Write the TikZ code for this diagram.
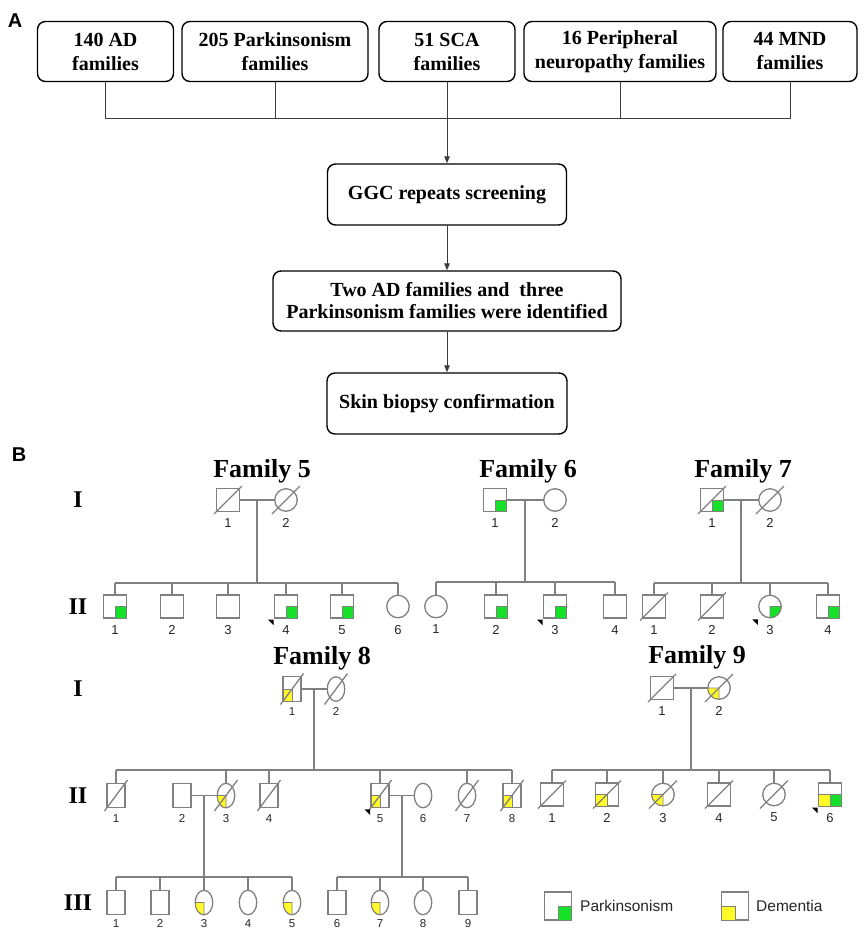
\documentclass[tikz,border=0pt]{standalone}
\usepackage{fontspec}
\setmainfont{Liberation Serif}
\setsansfont{Liberation Sans}
\usetikzlibrary{shapes.geometric,arrows.meta}
\definecolor{pgreen}{RGB}{20,225,40}
\definecolor{pyellow}{RGB}{255,250,40}
\definecolor{pline}{RGB}{128,128,128}
\definecolor{aline}{RGB}{60,60,60}
\newcommand{\pM}[3]{\node[male] (#1) at (#2,#3) {};}
\newcommand{\pF}[3]{\node[female] (#1) at (#2,#3) {};}
\newcommand{\pMe}[3]{\node[maleE] (#1) at (#2,#3) {};}
\newcommand{\pFe}[3]{\node[femaleE] (#1) at (#2,#3) {};}
\newcommand{\gBR}[1]{\filldraw[pgreen,draw=pline,line width=0.8pt] (#1.center) rectangle (#1.south east);}
\newcommand{\yBL}[1]{\filldraw[pyellow,draw=pline,line width=0.8pt] (#1.center) rectangle (#1.south west);}
\newcommand{\gBRc}[1]{\filldraw[pgreen,draw=pline,line width=0.8pt] (#1.center) -- (#1.east) arc[start angle=0,end angle=90,radius=11.25] -- cycle;}
\newcommand{\yBLc}[1]{\filldraw[pyellow,draw=pline,line width=0.8pt] (#1.center) -- (#1.south) arc[start angle=90,end angle=180,radius=11.25] -- cycle;}
\newcommand{\yBLe}[1]{\filldraw[pyellow,draw=pline,line width=0.8pt] (#1.center) -- (#1.south) arc[start angle=90,end angle=180,x radius=8.75,y radius=12.25] -- cycle;}
\newcommand{\dead}[3]{\draw[ped] ([shift={(-#2,#3)}]#1.center) -- ([shift={(#2,-#3)}]#1.center);}
\newcommand{\proband}[1]{\coordinate (#1pb) at (#1.west |- #1.south); \fill[black] ([shift={(-6.5,1.5)}]#1pb) -- ([shift={(-1,1.5)}]#1pb) -- ([shift={(-1,7)}]#1pb) -- cycle;}
\newcommand{\lb}[2]{\node[lab] (#1l) at ([yshift=-7pt]#1.south) {#2};}
\newcommand{\lbe}[2]{\node[labE] (#1l) at ([yshift=-6.5pt]#1.south) {#2};}
\newcommand{\lbf}[2]{\node[labE] (#1l) at ([yshift=-5pt]#1.south) {#2};}
\begin{document}
\begin{tikzpicture}[x=1pt,y=-1pt,
  box/.style={draw=black, line width=1.4pt, rounded corners=8pt, align=center, font=\fontsize{20}{24}\selectfont\bfseries, inner sep=0pt},
  flow/.style={draw=aline, line width=1pt},
  arr/.style={flow, -{Triangle[length=7pt,width=5.5pt]}},
  male/.style={draw=pline, line width=1.3pt, rectangle, minimum width=23pt, minimum height=23pt, inner sep=0pt, outer sep=0pt},
  female/.style={draw=pline, line width=1.3pt, circle, minimum size=22.5pt, inner sep=0pt, outer sep=0pt},
  maleE/.style={male, minimum width=18pt, minimum height=24.5pt},
  femaleE/.style={draw=pline, line width=1.3pt, ellipse, minimum width=17.5pt, minimum height=24.5pt, inner sep=0pt, outer sep=0pt},
  ped/.style={draw=pline, line width=1.3pt},
  lab/.style={font=\fontsize{13}{13}\selectfont\sffamily, text=black!85, inner sep=0pt, anchor=north},
  labE/.style={lab, font=\fontsize{11.5}{11.5}\selectfont\sffamily},
  famt/.style={font=\fontsize{26}{26}\selectfont\bfseries, inner sep=0pt},
  gen/.style={font=\fontsize{24}{24}\selectfont\bfseries, inner sep=0pt},
  panel/.style={font=\fontsize{20}{20}\selectfont\sffamily\bfseries, inner sep=0pt},
  legt/.style={font=\fontsize{15.5}{15.5}\selectfont\sffamily, text=black!85, inner sep=0pt, anchor=west},
]
\useasboundingbox (0,0) rectangle (864,930);
% ---------------- Panel A ----------------
\node[panel] (pA) at (15,21) {A};
\node[box, minimum width=136pt, minimum height=60pt] (b1) at (105.5,51.5) {140 AD\\families};
\node[box, minimum width=186pt, minimum height=60pt] (b2) at (275,51.5) {205 Parkinsonism\\families};
\node[box, minimum width=136pt, minimum height=60pt] (b3) at (447,51.5) {51 SCA\\families};
\node[box, minimum width=192pt, minimum height=60pt] (b4) at (620,51.5) {16 Peripheral\\neuropathy families};
\node[box, minimum width=134pt, minimum height=60pt] (b5) at (790,51.5) {44 MND\\families};
\coordinate (hl) at (0,118);
\draw[flow] (b1.south) -- (b1.south |- hl) -- (b5.south |- hl) -- (b5.south);
\draw[flow] (b2.south) -- (b2.south |- hl);
\draw[flow] (b4.south) -- (b4.south |- hl);
\node[box, minimum width=239pt, minimum height=61pt] (c1) at (447,194.5) {GGC repeats screening};
\node[box, minimum width=348pt, minimum height=60pt, font=\fontsize{20}{22}\selectfont\bfseries] (c2) at (447,301) {Two AD families and~ three\\Parkinsonism families were identified};
\node[box, minimum width=240pt, minimum height=61pt] (c3) at (447,403.5) {Skin biopsy confirmation};
\draw[arr] (b3) -- (c1);
\draw[arr] (c1) -- (c2);
\draw[arr] (c2) -- (c3);
% ---------------- Panel B ----------------
\node[panel] (pB) at (19,455) {B};
\node[gen] (g1) at (78,500) {I};
\node[gen] (g2) at (78,607) {II};
\node[gen] (g3) at (78,689) {I};
\node[gen] (g4) at (78,796) {II};
\node[gen] (g5) at (78,903) {III};
% Family 5
\node[famt] (t5) at (262,471) {Family 5};
\pM{f5a}{228}{500} \pF{f5b}{286}{500}
\draw[ped] (f5a) -- (f5b);
\coordinate (f5m) at (257,500); \coordinate (f5s) at (257,583);
\draw[ped] (f5m) -- (f5s);
\pM{f5c1}{115}{606.5} \pM{f5c2}{172}{606.5} \pM{f5c3}{228}{606.5}
\pM{f5c4}{286}{606.5} \pM{f5c5}{342}{606.5} \pF{f5c6}{398}{606.5}
\draw[ped] (f5c1.north |- f5s) -- (f5c6.north |- f5s);
\foreach \n in {f5c1,f5c2,f5c3,f5c4,f5c5,f5c6} \draw[ped] (\n.north) -- (\n.north |- f5s);
\gBR{f5c1} \gBR{f5c4} \gBR{f5c5}
\dead{f5a}{14}{14} \dead{f5b}{14}{14}
\proband{f5c4}
\lb{f5a}{1} \lb{f5b}{2}
\lb{f5c1}{1} \lb{f5c2}{2} \lb{f5c3}{3} \lb{f5c4}{4} \lb{f5c5}{5} \lb{f5c6}{6}
% Family 6
\node[famt] (t6) at (528,471) {Family 6};
\pM{f6a}{495}{500} \pF{f6b}{555}{500}
\draw[ped] (f6a) -- (f6b);
\coordinate (f6m) at (525,500); \coordinate (f6s) at (525,582);
\draw[ped] (f6m) -- (f6s);
\pF{f6c1}{436}{606.5} \pM{f6c2}{496}{606.5} \pM{f6c3}{555}{606.5} \pM{f6c4}{615}{606.5}
\draw[ped] (f6c1.north |- f6s) -- (f6c4.north |- f6s);
\foreach \n in {f6c1,f6c2,f6c3,f6c4} \draw[ped] (\n.north) -- (\n.north |- f6s);
\gBR{f6a} \gBR{f6c2} \gBR{f6c3}
\proband{f6c3}
\lb{f6a}{1} \lb{f6b}{2}
\lb{f6c1}{1} \lb{f6c2}{2} \lb{f6c3}{3} \lb{f6c4}{4}
% Family 7
\node[famt] (t7) at (743,471) {Family 7};
\pM{f7a}{712}{500} \pF{f7b}{770}{500}
\draw[ped] (f7a) -- (f7b);
\coordinate (f7m) at (741,500); \coordinate (f7s) at (741,583);
\draw[ped] (f7m) -- (f7s);
\pM{f7c1}{654}{606.5} \pM{f7c2}{712}{606.5} \pF{f7c3}{770}{606.5} \pM{f7c4}{828}{606.5}
\draw[ped] (f7c1.north |- f7s) -- (f7c4.north |- f7s);
\foreach \n in {f7c1,f7c2,f7c3,f7c4} \draw[ped] (\n.north) -- (\n.north |- f7s);
\gBR{f7a} \gBRc{f7c3} \gBR{f7c4}
\dead{f7a}{14}{14} \dead{f7b}{14}{14} \dead{f7c1}{14}{14} \dead{f7c2}{14}{14}
\proband{f7c3}
\lb{f7a}{1} \lb{f7b}{2}
\lb{f7c1}{1} \lb{f7c2}{2} \lb{f7c3}{3} \lb{f7c4}{4}
% Family 8
\node[famt] (t8) at (322,658) {Family 8};
\pMe{f8a}{292}{689} \pFe{f8b}{336}{689}
\draw[ped] (f8a) -- (f8b);
\coordinate (f8m) at (314,689); \coordinate (f8s) at (314,770);
\draw[ped] (f8m) -- (f8s);
\pMe{f8d1}{116}{795.5} \pMe{f8d2}{182}{795.5} \pFe{f8d3}{226}{795.5} \pMe{f8d4}{269}{795.5}
\pMe{f8d5}{380}{795.5} \pFe{f8d6}{423}{795.5} \pFe{f8d7}{467}{795.5} \pMe{f8d8}{512}{795.5}
\draw[ped] (f8d1.north |- f8s) -- (f8d8.north |- f8s);
\foreach \n in {f8d1,f8d3,f8d4,f8d5,f8d7,f8d8} \draw[ped] (\n.north) -- (\n.north |- f8s);
\draw[ped] (f8d2) -- (f8d3);
\draw[ped] (f8d5) -- (f8d6);
\coordinate (f8m2) at (204,795.5); \coordinate (f8m3) at (402,795.5);
\coordinate (f8t) at (0,877);
\draw[ped] (f8m2) -- (f8m2 |- f8t);
\draw[ped] (f8m3) -- (f8m3 |- f8t);
\pMe{f8e1}{116}{902.5} \pMe{f8e2}{160}{902.5} \pFe{f8e3}{204}{902.5} \pFe{f8e4}{248}{902.5} \pFe{f8e5}{292}{902.5}
\pMe{f8e6}{337}{902.5} \pFe{f8e7}{380}{902.5} \pFe{f8e8}{423}{902.5} \pMe{f8e9}{468}{902.5}
\draw[ped] (f8e1.north |- f8t) -- (f8e5.north |- f8t);
\draw[ped] (f8e6.north |- f8t) -- (f8e9.north |- f8t);
\foreach \n in {f8e1,f8e2,f8e3,f8e4,f8e5,f8e6,f8e7,f8e8,f8e9} \draw[ped] (\n.north) -- (\n.north |- f8t);
\yBL{f8a} \yBLe{f8d3} \yBL{f8d5} \yBL{f8d8}
\yBLe{f8e3} \yBLe{f8e5} \yBLe{f8e7}
\dead{f8a}{11.5}{15.5} \dead{f8b}{11.5}{15.5}
\dead{f8d1}{11.5}{15.5} \dead{f8d3}{11.5}{15.5} \dead{f8d4}{11.5}{15.5}
\dead{f8d5}{11.5}{15.5} \dead{f8d7}{11.5}{15.5} \dead{f8d8}{11.5}{15.5}
\proband{f8d5}
\lbe{f8a}{1} \lbe{f8b}{2}
\lbe{f8d1}{1} \lbe{f8d2}{2} \lbe{f8d3}{3} \lbe{f8d4}{4} \lbe{f8d5}{5} \lbe{f8d6}{6} \lbe{f8d7}{7} \lbe{f8d8}{8}
\lbf{f8e1}{1} \lbf{f8e2}{2} \lbf{f8e3}{3} \lbf{f8e4}{4} \lbf{f8e5}{5} \lbf{f8e6}{6} \lbf{f8e7}{7} \lbf{f8e8}{8} \lbf{f8e9}{9}
% Family 9
\node[famt] (t9) at (697,657) {Family 9};
\pM{f9a}{662}{688} \pF{f9b}{719}{688}
\draw[ped] (f9a) -- (f9b);
\coordinate (f9m) at (691,688); \coordinate (f9s) at (691,770);
\draw[ped] (f9m) -- (f9s);
\pM{f9c1}{552}{794.5} \pM{f9c2}{607}{794.5} \pF{f9c3}{663}{794.5}
\pM{f9c4}{719}{794.5} \pF{f9c5}{774}{794.5} \pM{f9c6}{830}{794.5}
\draw[ped] (f9c1.north |- f9s) -- (f9c6.north |- f9s);
\foreach \n in {f9c1,f9c2,f9c3,f9c4,f9c5,f9c6} \draw[ped] (\n.north) -- (\n.north |- f9s);
\yBLc{f9b} \yBL{f9c2} \yBLc{f9c3} \yBL{f9c6} \gBR{f9c6}
\dead{f9a}{14}{14} \dead{f9b}{14}{14} \dead{f9c1}{14}{14} \dead{f9c2}{14}{14}
\dead{f9c3}{14}{14} \dead{f9c4}{14}{14} \dead{f9c5}{14}{14}
\proband{f9c6}
\lb{f9a}{1} \lb{f9b}{2}
\lb{f9c1}{1} \lb{f9c2}{2} \lb{f9c3}{3} \lb{f9c4}{4} \lb{f9c5}{5} \lb{f9c6}{6}
% Legend
\node[male, minimum width=27pt, minimum height=28pt, line width=1.4pt] (lg1) at (558,906) {};
\gBR{lg1}
\node[legt] (lg1t) at (580,906) {Parkinsonism};
\node[male, minimum width=27pt, minimum height=28pt, line width=1.4pt] (lg2) at (735,906) {};
\yBL{lg2}
\node[legt] (lg2t) at (756,906) {Dementia};
\end{tikzpicture}
\end{document}
